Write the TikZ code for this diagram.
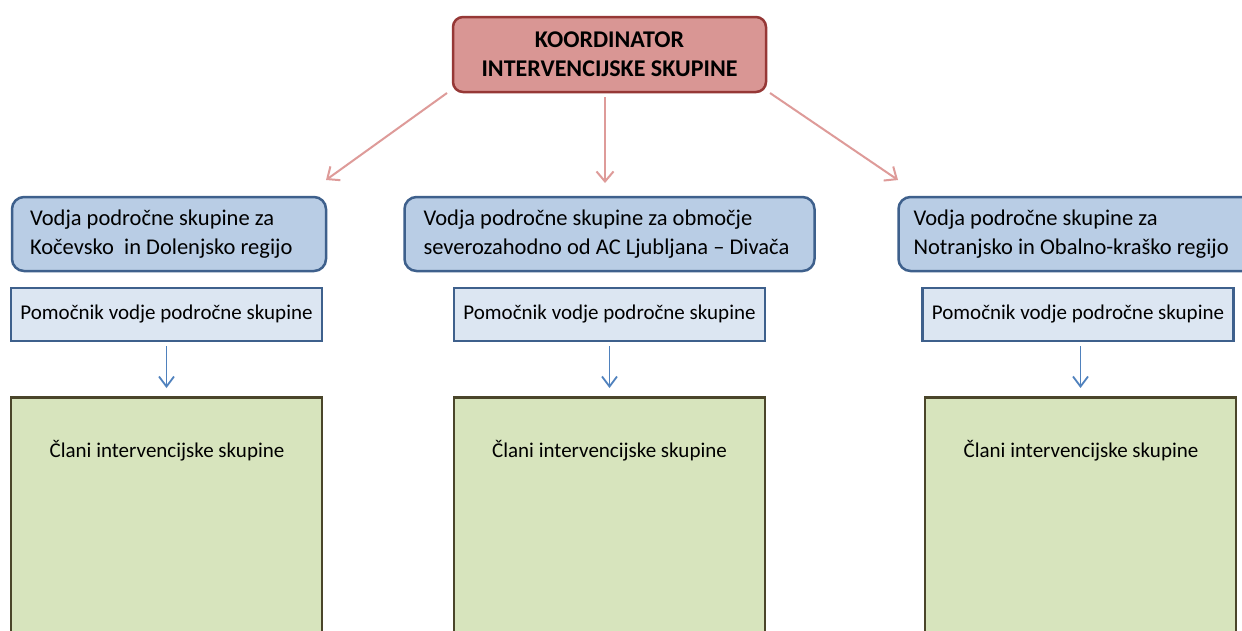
\documentclass[tikz,border=0pt]{standalone}
\usepackage{fontspec}
\setmainfont{Carlito}
\usetikzlibrary{arrows.meta}
\definecolor{topfill}{RGB}{217,150,148}
\definecolor{topdraw}{RGB}{150,56,54}
\definecolor{redarr}{RGB}{222,155,153}
\definecolor{bluefill}{RGB}{185,205,229}
\definecolor{bluedraw}{RGB}{62,96,140}
\definecolor{asfill}{RGB}{220,230,242}
\definecolor{bluearr}{RGB}{79,129,189}
\definecolor{greenfill}{RGB}{215,228,189}
\definecolor{greendraw}{RGB}{74,69,42}
\newcommand{\leadfnt}{\fontsize{22.5}{29}\selectfont\hyphenpenalty=10000\relax}
\tikzset{
  topbox/.style={draw=topdraw, fill=topfill, line width=2.5pt, rounded corners=10pt,
    minimum width=313pt, minimum height=75pt, align=center, inner sep=0pt,
    font=\fontsize{24}{29}\selectfont\bfseries},
  leadbox/.style={draw=bluedraw, fill=bluefill, line width=2.5pt, rounded corners=12pt,
    minimum height=74pt, align=flush left, inner ysep=0pt, font=\leadfnt},
  asbox/.style={draw=bluedraw, fill=asfill, line width=2.5pt,
    minimum width=311pt, minimum height=53pt, align=center, inner sep=0pt,
    font=\fontsize{21}{25}\selectfont},
  memberbox/.style={draw=greendraw, fill=greenfill, line width=2.5pt,
    minimum width=311pt, minimum height=250pt, inner sep=0pt},
  memberlabel/.style={inner sep=0pt, font=\fontsize{21}{25}\selectfont},
  redarrow/.style={draw=redarr, line width=2pt, -{Straight Barb[length=10pt,width=17pt,line width=2pt]}},
  bluearrow/.style={draw=bluearr, line width=1.8pt, -{Straight Barb[length=10pt,width=15pt,line width=1.8pt]}}
}
\begin{document}
\begin{tikzpicture}[x=1pt,y=-1pt]
\useasboundingbox (0,0) rectangle (1242,630);
\fill[white] (0,0) rectangle (1242,630);

\node[topbox] (top) at (609.5,54.5) {KOORDINATOR\\INTERVENCIJSKE SKUPINE};

\node[leadbox, text width=278pt, inner xsep=18pt] (l1) at (169,234) {Vodja področne skupine za\\Kočevsko\ \ in Dolenjsko regijo};
\node[leadbox, text width=372pt, inner xsep=19pt] (l2) at (609.5,234) {Vodja področne skupine za območje\\severozahodno od AC Ljubljana -- Divača};
\node[leadbox, text width=331pt, inner xsep=15pt] (l3) at (1079,234) {Vodja področne skupine za\\Notranjsko in Obalno-kraško regijo};

\node[asbox] (a1) at (166.5,314.5) {Pomočnik vodje področne skupine};
\node[asbox] (a2) at (609.5,314.5) {Pomočnik vodje področne skupine};
\node[asbox] (a3) at (1078,314.5) {Pomočnik vodje področne skupine};

\node[memberbox, anchor=north] (m1) at (166.5,396) {};
\node[memberbox, anchor=north] (m2) at (609.5,396) {};
\node[memberbox, anchor=north] (m3) at (1080.5,396) {};
\node[memberlabel] (t1) at (167,451) {Člani intervencijske skupine};
\node[memberlabel] (t2) at (609.5,451) {Člani intervencijske skupine};
\node[memberlabel] (t3) at (1081,451) {Člani intervencijske skupine};

\coordinate (r1s) at (447,93);
\coordinate (r1e) at (326,180);
\coordinate (r2s) at (605,97);
\coordinate (r2e) at (605,183);
\coordinate (r3s) at (770,93);
\coordinate (r3e) at (898,180);
\draw[redarrow] (r1s) -- (r1e);
\draw[redarrow] (r2s) -- (r2e);
\draw[redarrow] (r3s) -- (r3e);

\draw[bluearrow] ([yshift=-4pt]a1.south -| m1.north) -- ([yshift=8pt]m1.north);
\draw[bluearrow] ([yshift=-4pt]a2.south -| m2.north) -- ([yshift=8pt]m2.north);
\draw[bluearrow] ([yshift=-4pt]a3.south -| m3.north) -- ([yshift=8pt]m3.north);
\end{tikzpicture}
\end{document}
